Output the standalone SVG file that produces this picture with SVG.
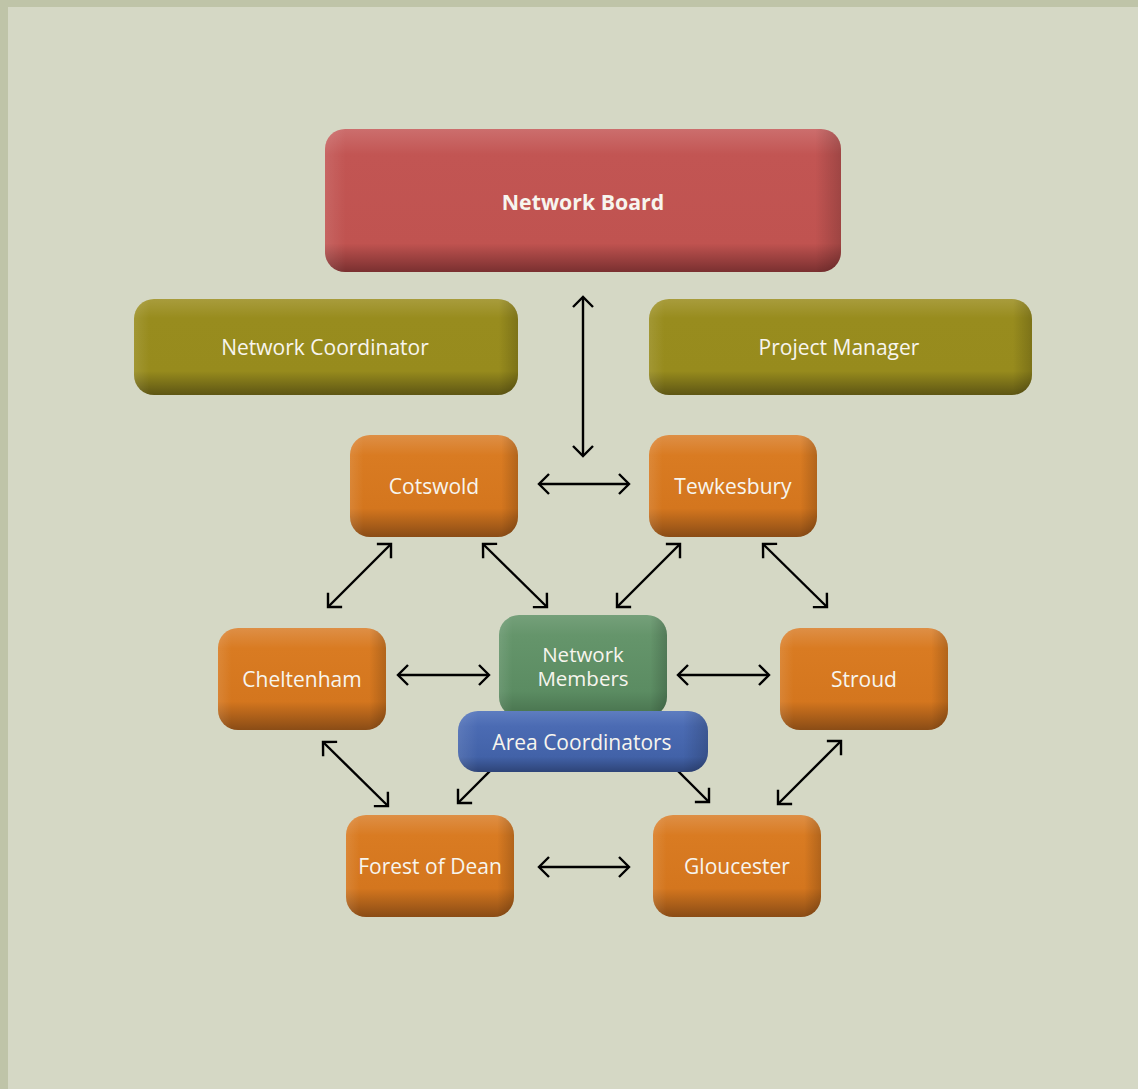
<svg xmlns="http://www.w3.org/2000/svg" width="1138" height="1089" viewBox="0 0 1138 1089">
<defs>
<style>
.lbl{font-family:"Open Sans","Noto Sans","Liberation Sans",sans-serif;font-size:21px;fill:#f7f5ee;text-anchor:middle;dominant-baseline:central}
.b{font-weight:bold;font-size:21.3px}
.m{font-size:20.5px}
.c{fill:none;stroke:#000;stroke-width:2.4}
</style>
<linearGradient id="gR" x1="0" y1="0" x2="0" y2="1"><stop offset="0" stop-color="#cc6e6d"/><stop offset="0.18" stop-color="#c25553"/><stop offset="0.8" stop-color="#c05350"/><stop offset="1" stop-color="#7a3030"/></linearGradient>
<linearGradient id="gO" x1="0" y1="0" x2="0" y2="1"><stop offset="0" stop-color="#a89c3c"/><stop offset="0.2" stop-color="#988c1e"/><stop offset="0.75" stop-color="#978b1d"/><stop offset="1" stop-color="#5e5614"/></linearGradient>
<linearGradient id="gA" x1="0" y1="0" x2="0" y2="1"><stop offset="0" stop-color="#de8f46"/><stop offset="0.2" stop-color="#d97b22"/><stop offset="0.72" stop-color="#d4761e"/><stop offset="1" stop-color="#8a4c16"/></linearGradient>
<linearGradient id="gG" x1="0" y1="0" x2="0" y2="1"><stop offset="0" stop-color="#75a07a"/><stop offset="0.2" stop-color="#65956b"/><stop offset="0.75" stop-color="#5b8c62"/><stop offset="1" stop-color="#47714d"/></linearGradient>
<linearGradient id="gB" x1="0" y1="0" x2="0" y2="1"><stop offset="0" stop-color="#5e7dc0"/><stop offset="0.25" stop-color="#4b6bb3"/><stop offset="0.75" stop-color="#4262a8"/><stop offset="1" stop-color="#2e4478"/></linearGradient>
<linearGradient id="side" x1="0" y1="0" x2="1" y2="0"><stop offset="0" stop-color="#fff" stop-opacity="0.1"/><stop offset="0.08" stop-color="#fff" stop-opacity="0"/><stop offset="0.9" stop-color="#000" stop-opacity="0"/><stop offset="1" stop-color="#000" stop-opacity="0.18"/></linearGradient>
<linearGradient id="sideW" x1="0" y1="0" x2="1" y2="0"><stop offset="0" stop-color="#fff" stop-opacity="0.1"/><stop offset="0.04" stop-color="#fff" stop-opacity="0"/><stop offset="0.95" stop-color="#000" stop-opacity="0"/><stop offset="1" stop-color="#000" stop-opacity="0.18"/></linearGradient>
<marker id="ah" markerUnits="userSpaceOnUse" markerWidth="24" markerHeight="24" refX="0" refY="0" viewBox="-12 -12 24 24" orient="auto-start-reverse" overflow="visible"><path d="M-10,-10 L0,0 L-10,10" fill="none" stroke="#000" stroke-width="2.4"/></marker>
</defs>
<rect x="0" y="0" width="1138" height="1089" fill="#bfc4a8"/>
<rect x="8" y="7" width="1130" height="1082" fill="#d5d8c5"/>
<g id="connectors">
<line class="c" x1="583" y1="297" x2="583" y2="456" marker-start="url(#ah)" marker-end="url(#ah)"/>
<line class="c" x1="539" y1="484" x2="629" y2="484" marker-start="url(#ah)" marker-end="url(#ah)"/>
<line class="c" x1="391" y1="544" x2="328" y2="607" marker-start="url(#ah)" marker-end="url(#ah)"/>
<line class="c" x1="483" y1="544" x2="547" y2="607" marker-start="url(#ah)" marker-end="url(#ah)"/>
<line class="c" x1="680" y1="544" x2="617" y2="607" marker-start="url(#ah)" marker-end="url(#ah)"/>
<line class="c" x1="763" y1="544" x2="827" y2="607" marker-start="url(#ah)" marker-end="url(#ah)"/>
<line class="c" x1="398" y1="675" x2="489" y2="675" marker-start="url(#ah)" marker-end="url(#ah)"/>
<line class="c" x1="678" y1="675" x2="769" y2="675" marker-start="url(#ah)" marker-end="url(#ah)"/>
<line class="c" x1="323" y1="742" x2="388" y2="806" marker-start="url(#ah)" marker-end="url(#ah)"/>
<line class="c" x1="841" y1="741" x2="778" y2="804" marker-start="url(#ah)" marker-end="url(#ah)"/>
<line class="c" x1="500" y1="761" x2="458" y2="803" marker-end="url(#ah)"/>
<line class="c" x1="668" y1="761" x2="709" y2="802" marker-end="url(#ah)"/>
<line class="c" x1="539" y1="867" x2="629" y2="867" marker-start="url(#ah)" marker-end="url(#ah)"/>
</g>
<g id="network-board"><rect x="325" y="129" width="516" height="143" rx="20" fill="url(#gR)"/><rect x="325" y="129" width="516" height="143" rx="20" fill="url(#sideW)"/><text class="lbl b" x="583" y="201">Network Board</text></g>
<g id="network-coordinator"><rect x="134" y="299" width="384" height="96" rx="20" fill="url(#gO)"/><rect x="134" y="299" width="384" height="96" rx="20" fill="url(#sideW)"/><text class="lbl" x="325" y="347">Network Coordinator</text></g>
<g id="project-manager"><rect x="649" y="299" width="383" height="96" rx="20" fill="url(#gO)"/><rect x="649" y="299" width="383" height="96" rx="20" fill="url(#sideW)"/><text class="lbl" x="839" y="347">Project Manager</text></g>
<g id="cotswold"><rect x="350" y="435" width="168" height="102" rx="20" fill="url(#gA)"/><rect x="350" y="435" width="168" height="102" rx="20" fill="url(#side)"/><text class="lbl" x="434" y="486">Cotswold</text></g>
<g id="tewkesbury"><rect x="649" y="435" width="168" height="102" rx="20" fill="url(#gA)"/><rect x="649" y="435" width="168" height="102" rx="20" fill="url(#side)"/><text class="lbl" x="733" y="486">Tewkesbury</text></g>
<g id="cheltenham"><rect x="218" y="628" width="168" height="102" rx="20" fill="url(#gA)"/><rect x="218" y="628" width="168" height="102" rx="20" fill="url(#side)"/><text class="lbl" x="302" y="679">Cheltenham</text></g>
<g id="stroud"><rect x="780" y="628" width="168" height="102" rx="20" fill="url(#gA)"/><rect x="780" y="628" width="168" height="102" rx="20" fill="url(#side)"/><text class="lbl" x="864" y="679">Stroud</text></g>
<g id="network-members"><rect x="499" y="615" width="168" height="102" rx="20" fill="url(#gG)"/><rect x="499" y="615" width="168" height="102" rx="20" fill="url(#side)"/><text class="lbl m" x="583" y="654"><tspan x="583" y="654">Network</tspan><tspan x="583" y="678">Members</tspan></text></g>
<g id="area-coordinators"><rect x="458" y="711" width="250" height="61" rx="20" fill="url(#gB)"/><rect x="458" y="711" width="250" height="61" rx="20" fill="url(#side)"/><text class="lbl" x="582" y="742">Area Coordinators</text></g>
<g id="forest-of-dean"><rect x="346" y="815" width="168" height="102" rx="20" fill="url(#gA)"/><rect x="346" y="815" width="168" height="102" rx="20" fill="url(#side)"/><text class="lbl" x="430" y="866">Forest of Dean</text></g>
<g id="gloucester"><rect x="653" y="815" width="168" height="102" rx="20" fill="url(#gA)"/><rect x="653" y="815" width="168" height="102" rx="20" fill="url(#side)"/><text class="lbl" x="737" y="866">Gloucester</text></g>
</svg>
